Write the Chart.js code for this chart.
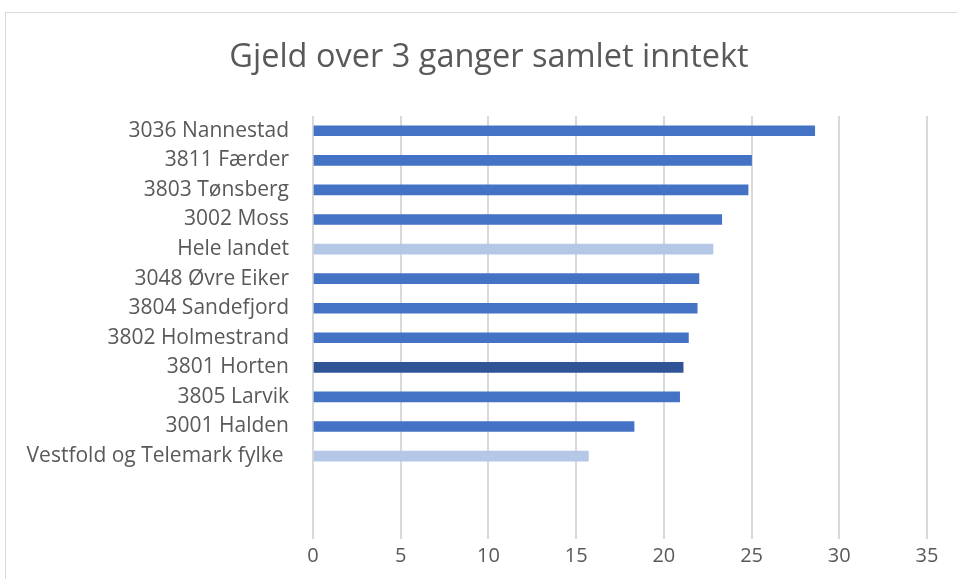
<!DOCTYPE html>
<html>
<head>
<meta charset="utf-8">
<script src="https://cdn.jsdelivr.net/npm/chart.js@4"></script>
<style>
  body { margin: 0; background: #fff; }
  #wrap { position: absolute; left: 5px; top: 12px; width: 960px; height: 575px; border: 1px solid #d9d9d9; }
</style>
</head>
<body>
<div id="wrap"><canvas id="chart" width="960" height="575"></canvas></div>
<script>
// kommuner, sortert som i figuren (øverst først)
const labels = [
  '3036 Nannestad',
  '3811 Færder',
  '3803 Tønsberg',
  '3002 Moss',
  'Hele landet',
  '3048 Øvre Eiker',
  '3804 Sandefjord',
  '3802 Holmestrand',
  '3801 Horten',
  '3805 Larvik',
  '3001 Halden',
  'Vestfold og Telemark fylke ',
  '',
  ''
];
const values = [28.6, 25.0, 24.8, 23.3, 22.8, 22.0, 21.9, 21.4, 21.1, 20.9, 18.3, 15.7, null, null];
const xTicks = [0, 5, 10, 15, 20, 25, 30, 35];
const title = 'Gjeld over 3 ganger samlet inntekt';

const blue = '#4472c4', light = '#b4c7e7', dark = '#2f5597';
const colors = labels.map(l => {
  if (l.startsWith('Hele') || l.startsWith('Vestfold')) return light;
  if (l === '3801 Horten') return dark;
  return blue;
});

const txt = '#595959';
const font = '"Open Sans", sans-serif';

// tittelen sitter litt til høyre for midten, så den tegnes selv
const titlePlugin = {
  id: 'ownTitle',
  afterDraw(chart) {
    const ctx = chart.ctx;
    ctx.save();
    ctx.font = '32.5px ' + font;
    ctx.fillStyle = txt;
    ctx.textAlign = 'center';
    ctx.textBaseline = 'middle';
    ctx.fillText(title, 483, 45);
    ctx.restore();
  }
};

new Chart(document.getElementById('chart'), {
  type: 'bar',
  data: {
    labels: labels,
    datasets: [{
      data: values,
      backgroundColor: colors,
      barThickness: 10
    }]
  },
  options: {
    indexAxis: 'y',
    responsive: false,
    animation: false,
    layout: { padding: { top: 103, right: 39, bottom: 15, left: 0 } },
    plugins: {
      legend: { display: false },
      tooltip: { enabled: false },
      title: { display: false }
    },
    scales: {
      x: {
        min: 0,
        max: 35,
        afterBuildTicks: s => { s.ticks = xTicks.map(v => ({ value: v })); },
        grid: { color: '#d9d9d9', lineWidth: 2, drawTicks: true, tickLength: 9 },
        border: { display: false },
        ticks: { color: txt, font: { family: font, size: 20 }, padding: 5 }
      },
      y: {
        grid: { display: false },
        border: { display: false },
        afterFit: s => { s.width = 307; },
        ticks: { color: txt, font: { family: font, size: 21 }, padding: 16, autoSkip: false }
      }
    }
  },
  plugins: [titlePlugin]
});
</script>
</body>
</html>
